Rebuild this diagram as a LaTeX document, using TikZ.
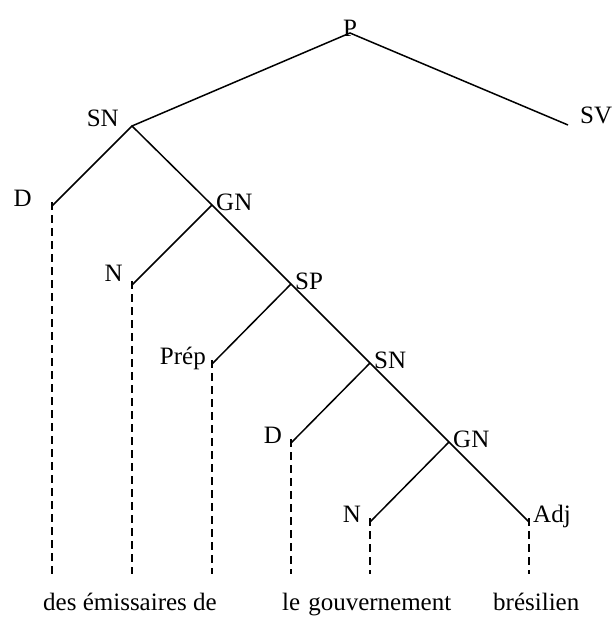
\documentclass[tikz,border=0pt]{standalone}
\usepackage{fontspec}
\setmainfont{Liberation Serif}
\begin{document}
\begin{tikzpicture}[x=1pt,y=-1pt,
  branch/.style={line width=1.5pt},
  leafline/.style={line width=1.3pt,dash pattern=on 8pt off 5pt},
  cat/.style={inner sep=0pt,font=\fontsize{25}{30}\selectfont},
  word/.style={inner sep=0pt,anchor=base west,font=\fontsize{25}{30}\selectfont}]
\useasboundingbox (0,0) rectangle (614,623);

% junction points of the tree
\coordinate (jP)   at (350,33);
\coordinate (jSN)  at (132,126);
\coordinate (jSV)  at (568,125);
\coordinate (jD)   at (52,206);
\coordinate (jGN)  at (212,205);
\coordinate (jN)   at (132,285);
\coordinate (jSP)  at (291,284);
\coordinate (jPrep) at (212,364);
\coordinate (jSNb) at (370,363);
\coordinate (jDb)  at (291,443);
\coordinate (jGNb) at (449,442);
\coordinate (jNb)  at (370,522);
\coordinate (jAdj) at (529,522);

% lower ends of the dashed leaf lines
\coordinate (eD)    at (52,574);
\coordinate (eN)    at (132,574);
\coordinate (ePrep) at (212,574);
\coordinate (eDb)   at (291,574);
\coordinate (eNb)   at (370,574);
\coordinate (eAdj)  at (529,574);

% category labels
\node[cat,anchor=south]      (P)    at ([yshift=-4]jP) {P};
\node[cat,anchor=base east]  (SN)   at ([xshift=-13,yshift=-1]jSN) {SN};
\node[cat,anchor=base west]  (SV)   at ([xshift=12,yshift=2]jSV) {SV};
\node[cat,anchor=base east]  (D)    at ([xshift=-20]jD) {D};
\node[cat,anchor=base west]  (GN)   at ([xshift=4,yshift=-5]jGN) {GN};
\node[cat,anchor=base east]  (N)    at ([xshift=-9,yshift=4]jN) {N};
\node[cat,anchor=base west]  (SP)   at ([xshift=4,yshift=-5]jSP) {SP};
\node[cat,anchor=base east]  (Prep) at ([xshift=-6]jPrep) {Prép};
\node[cat,anchor=base west]  (SNb)  at ([xshift=4,yshift=-5]jSNb) {SN};
\node[cat,anchor=base east]  (Db)   at ([xshift=-9]jDb) {D};
\node[cat,anchor=base west]  (GNb)  at ([xshift=4,yshift=-5]jGNb) {GN};
\node[cat,anchor=base east]  (Nb)   at ([xshift=-9]jNb) {N};
\node[cat,anchor=base west]  (Adj)  at ([xshift=4]jAdj) {Adj};

% solid branches
\draw[branch] (jSN) -- (jP) -- (jSV);
\draw[branch] (jD) -- (jSN) -- (jGN) -- (jSP) -- (jSNb) -- (jGNb) -- (jAdj);
\draw[branch] (jN) -- (jGN);
\draw[branch] (jPrep) -- (jSP);
\draw[branch] (jDb) -- (jSNb);
\draw[branch] (jNb) -- (jGNb);

% dashed lines down to the words
\draw[leafline] ([yshift=4]jD) -- (eD);
\draw[leafline] ([yshift=4]jN) -- (eN);
\draw[leafline] ([yshift=4]jPrep) -- (ePrep);
\draw[leafline] ([yshift=4]jDb) -- (eDb);
\draw[leafline] ([yshift=4]jNb) -- (eNb);
\draw[leafline] ([yshift=4]jAdj) -- (eAdj);

% the sentence
\node[word] (w1) at (43,610) {des émissaires de};
\node[word] (w2) at (282,610) {le\hspace{8pt}gouvernement};
\node[word] (w3) at (493,610) {brésilien};
\end{tikzpicture}
\end{document}
